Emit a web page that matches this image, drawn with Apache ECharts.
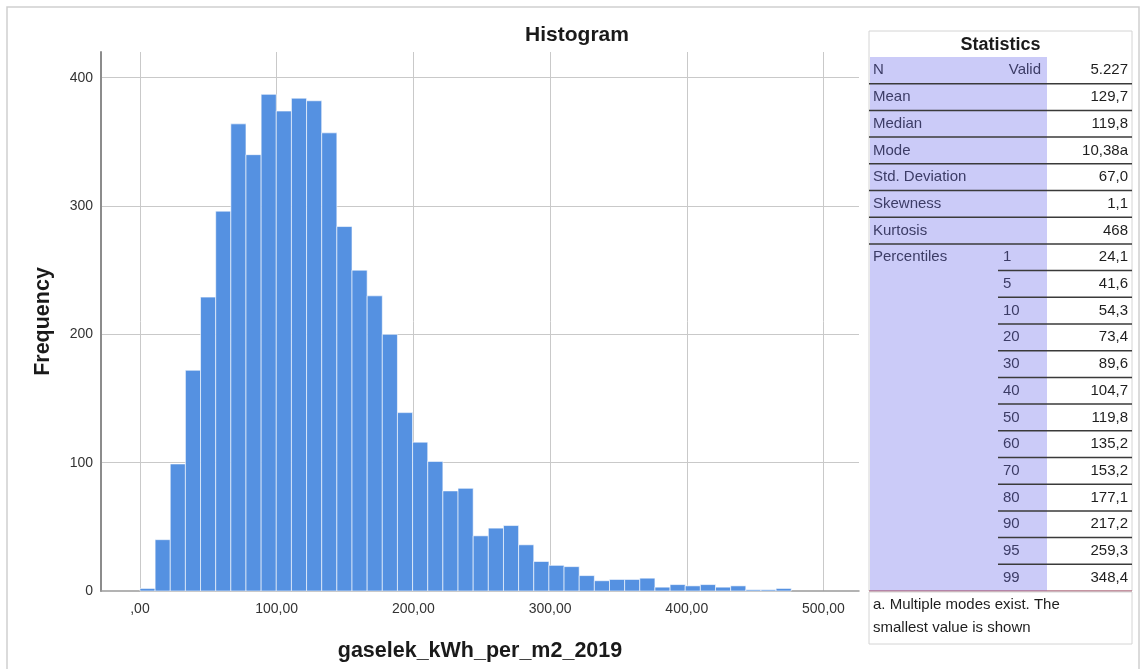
<!DOCTYPE html>
<html>
<head>
<meta charset="utf-8">
<title>Histogram</title>
<script src="https://cdn.jsdelivr.net/npm/echarts@6/dist/echarts.min.js"></script>
<style>
  html, body { margin: 0; padding: 0; background: #ffffff; }
  #chart { width: 1144px; height: 669px; }
</style>
</head>
<body>
<div id="chart"></div>
<script>
// Histogram bins: equal-width bins starting at binStart
const binStart = 0;
const binWidth = 11.08;
const frequencies = [
  2, 40, 99, 172, 229, 296, 364, 340, 387, 374,
  384, 382, 357, 284, 250, 230, 200, 139, 116, 101,
  78, 80, 43, 49, 51, 36, 23, 20, 19, 12,
  8, 9, 9, 10, 3, 5, 4, 5, 3, 4,
  1, 1, 2
];

// Axis ticks
const xTickValues = [0, 100, 200, 300, 400, 500];
const xTickLabels = [',00', '100,00', '200,00', '300,00', '400,00', '500,00'];
const yTickValues = [0, 100, 200, 300, 400];

// Statistics table
const statLabels = ['N', 'Mean', 'Median', 'Mode', 'Std. Deviation', 'Skewness', 'Kurtosis'];
const statSubLabels = ['Valid', '', '', '', '', '', ''];
const statValues = ['5.227', '129,7', '119,8', '10,38a', '67,0', '1,1', '468'];
const percentileLevels = ['1', '5', '10', '20', '30', '40', '50', '60', '70', '80', '90', '95', '99'];
const percentileValues = ['24,1', '41,6', '54,3', '73,4', '89,6', '104,7', '119,8', '135,2', '153,2', '177,1', '217,2', '259,3', '348,4'];
const footnoteLines = ['a. Multiple modes exist. The', 'smallest value is shown'];

const FONT = '"Liberation Sans", Arial, sans-serif';
const TABLE_FONT = '15px ' + FONT;

const histData = frequencies.map((f, i) => [binStart + i * binWidth, binStart + (i + 1) * binWidth, f]);

// ---- table layout ----
const tbl = { left: 869, right: 1132, top: 31, headBottom: 57, rowH: 26.7, splitX: 1047, subX: 998 };
const graphics = [];

// outer frame of the whole output
graphics.push({ type: 'rect', silent: true, shape: { x: 7, y: 7, width: 1132, height: 700 },
  style: { fill: 'none', stroke: '#cfcfcf', lineWidth: 1.5 } });

const nRows = statLabels.length + percentileLevels.length;
const bodyBottom = tbl.headBottom + nRows * tbl.rowH;

graphics.push({ type: 'rect', silent: true,
  shape: { x: tbl.left, y: tbl.top, width: tbl.right - tbl.left, height: bodyBottom - tbl.top },
  style: { fill: '#ffffff', stroke: '#d4d4d4', lineWidth: 1 } });
graphics.push({ type: 'rect', silent: true,
  shape: { x: tbl.left + 1, y: tbl.headBottom, width: tbl.splitX - tbl.left - 1, height: bodyBottom - tbl.headBottom },
  style: { fill: '#cbcbf8' } });
graphics.push({ type: 'text', silent: true,
  style: { x: (tbl.left + tbl.right) / 2, y: (tbl.top + tbl.headBottom) / 2 + 1, text: 'Statistics',
    font: 'bold 18px ' + FONT, fill: '#1a1a1a', align: 'center', verticalAlign: 'middle' } });

const labelColor = '#3c3c66';
statLabels.forEach((lab, i) => {
  const cy = tbl.headBottom + (i + 0.5) * tbl.rowH;
  graphics.push({ type: 'text', silent: true,
    style: { x: tbl.left + 4, y: cy, text: lab, font: TABLE_FONT, fill: labelColor, verticalAlign: 'middle' } });
  if (statSubLabels[i]) {
    graphics.push({ type: 'text', silent: true,
      style: { x: tbl.splitX - 6, y: cy, text: statSubLabels[i], font: TABLE_FONT, fill: labelColor, align: 'right', verticalAlign: 'middle' } });
  }
  graphics.push({ type: 'text', silent: true,
    style: { x: tbl.right - 4, y: cy, text: statValues[i], font: TABLE_FONT, fill: '#1e1e1e', align: 'right', verticalAlign: 'middle' } });
  const ly = tbl.headBottom + (i + 1) * tbl.rowH;
  graphics.push({ type: 'line', silent: true, shape: { x1: tbl.left, y1: ly, x2: tbl.right, y2: ly },
    style: { stroke: '#3a3a3a', lineWidth: 1.5 } });
});

percentileLevels.forEach((lev, j) => {
  const i = statLabels.length + j;
  const cy = tbl.headBottom + (i + 0.5) * tbl.rowH;
  if (j === 0) {
    graphics.push({ type: 'text', silent: true,
      style: { x: tbl.left + 4, y: cy, text: 'Percentiles', font: TABLE_FONT, fill: labelColor, verticalAlign: 'middle' } });
  }
  graphics.push({ type: 'text', silent: true,
    style: { x: tbl.subX + 5, y: cy, text: lev, font: TABLE_FONT, fill: labelColor, verticalAlign: 'middle' } });
  graphics.push({ type: 'text', silent: true,
    style: { x: tbl.right - 4, y: cy, text: percentileValues[j], font: TABLE_FONT, fill: '#1e1e1e', align: 'right', verticalAlign: 'middle' } });
  const ly = tbl.headBottom + (i + 1) * tbl.rowH;
  const last = j === percentileLevels.length - 1;
  graphics.push({ type: 'line', silent: true,
    shape: { x1: last ? tbl.left : tbl.subX, y1: ly, x2: tbl.right, y2: ly },
    style: { stroke: last ? '#a0405a' : '#3a3a3a', lineWidth: last ? 1.2 : 1.5 } });
});

// footnote box
graphics.push({ type: 'rect', silent: true,
  shape: { x: tbl.left, y: bodyBottom + 1, width: tbl.right - tbl.left, height: 52 },
  style: { fill: 'none', stroke: '#d4d4d4', lineWidth: 1 } });
footnoteLines.forEach((t, k) => {
  graphics.push({ type: 'text', silent: true,
    style: { x: tbl.left + 4, y: bodyBottom + 14 + k * 23, text: t, font: TABLE_FONT, fill: '#1e1e1e', verticalAlign: 'middle' } });
});

// chart title
graphics.push({ type: 'text', silent: true,
  style: { x: 577, y: 35, text: 'Histogram', font: 'bold 21px ' + FONT, fill: '#1a1a1a', align: 'center', verticalAlign: 'middle' } });

const chart = echarts.init(document.getElementById('chart'), null, { renderer: 'canvas' });

chart.setOption({
  animation: false,
  backgroundColor: '#ffffff',
  grid: { left: 101, right: 285, top: 52, bottom: 78, containLabel: false },
  xAxis: {
    type: 'value',
    min: -28.5,
    max: 526,
    splitNumber: 5,
    name: 'gaselek_kWh_per_m2_2019',
    nameLocation: 'middle',
    nameGap: 49,
    nameTextStyle: { fontFamily: FONT, fontSize: 21.5, fontWeight: 'bold', color: '#1a1a1a' },
    axisLine: { show: true, onZero: false, lineStyle: { color: '#9a9a9a', width: 1.5 } },
    axisTick: { show: false },
    axisLabel: {
      fontFamily: FONT, fontSize: 14, color: '#333333', margin: 11,
      showMinLabel: false, showMaxLabel: false,
      formatter: v => {
        const k = xTickValues.indexOf(Math.round(v * 1000) / 1000);
        return k >= 0 ? xTickLabels[k] : '';
      }
    },
    splitLine: { show: true, showMinLine: false, showMaxLine: false, lineStyle: { color: '#c9c9c9', width: 1 } }
  },
  yAxis: {
    type: 'value',
    min: 0,
    max: 420,
    interval: 100,
    name: 'Frequency',
    nameLocation: 'middle',
    nameGap: 47,
    nameTextStyle: { fontFamily: FONT, fontSize: 21.5, fontWeight: 'bold', color: '#1a1a1a' },
    axisLine: { show: true, onZero: false, lineStyle: { color: '#8c8c8c', width: 2 } },
    axisTick: { show: false },
    axisLabel: {
      fontFamily: FONT, fontSize: 14, color: '#333333', margin: 8,
      formatter: v => (yTickValues.indexOf(v) >= 0 ? String(v) : '')
    },
    splitLine: { show: true, showMinLine: false, showMaxLine: false, lineStyle: { color: '#c9c9c9', width: 1 } }
  },
  series: [{
    type: 'custom',
    data: histData,
    encode: { x: [0, 1], y: 2 },
    renderItem: (params, api) => {
      const p0 = api.coord([api.value(0), 0]);
      const p1 = api.coord([api.value(1), api.value(2)]);
      return {
        type: 'rect',
        shape: { x: p0[0], y: p1[1], width: p1[0] - p0[0], height: p0[1] - p1[1] },
        style: { fill: '#5591e1', stroke: 'rgba(255,255,255,0.6)', lineWidth: 1 }
      };
    }
  }],
  graphic: graphics
});
</script>
</body>
</html>
